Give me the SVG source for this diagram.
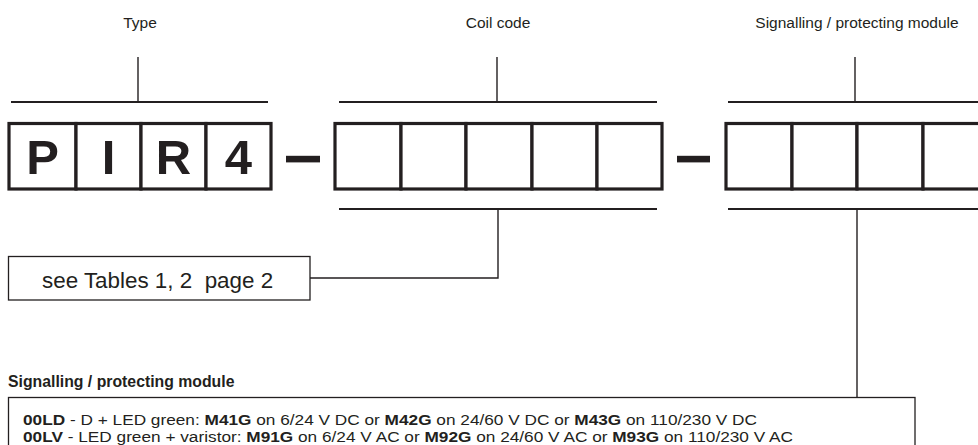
<svg xmlns="http://www.w3.org/2000/svg" width="978" height="445" viewBox="0 0 978 445">
<style>
text{font-family:"Liberation Sans",Arial,sans-serif;fill:#231f20}
.lbl{font-size:15.5px;text-anchor:middle}
.big{font-size:49px;font-weight:bold;text-anchor:middle}
.cell{fill:#fff;stroke:#231f20;stroke-width:3.2}
.br{stroke:#231f20;stroke-width:2;fill:none}
.st{stroke:#231f20;stroke-width:1.4;fill:none}
.dash{fill:#231f20}
.bx{fill:#fff;stroke:#231f20;stroke-width:1.3}
.t{font-size:15.2px}
.b{font-weight:bold}
</style>
<rect width="978" height="445" fill="#fff"/>
<g id="type">
<text class="lbl" x="140" y="28">Type</text>
<line class="st" x1="138" y1="57" x2="138" y2="102"/>
<line class="br" x1="11" y1="102" x2="268" y2="102"/>
<rect class="cell" x="9" y="123.5" width="67" height="65.5"/>
<rect class="cell" x="76" y="123.5" width="65" height="65.5"/>
<rect class="cell" x="141" y="123.5" width="65" height="65.5"/>
<rect class="cell" x="206" y="123.5" width="65" height="65.5"/>
<text class="big" x="42.5" y="173.5">P</text>
<text class="big" x="108.5" y="173.5">I</text>
<text class="big" x="173.5" y="173.5">R</text>
<text class="big" x="238.5" y="173.5">4</text>
</g>
<g id="dash1"><rect class="dash" x="286" y="155.8" width="34" height="6.6"/></g>
<g id="coil">
<text class="lbl" x="498" y="28">Coil code</text>
<line class="st" x1="497" y1="57" x2="497" y2="102"/>
<line class="br" x1="339" y1="102" x2="657" y2="102"/>
<rect class="cell" x="335" y="123.5" width="66" height="65.5"/>
<rect class="cell" x="401" y="123.5" width="65" height="65.5"/>
<rect class="cell" x="466" y="123.5" width="66" height="65.5"/>
<rect class="cell" x="532" y="123.5" width="65" height="65.5"/>
<rect class="cell" x="597" y="123.5" width="65" height="65.5"/>
<line class="br" x1="339" y1="209" x2="657" y2="209"/>
</g>
<g id="dash2"><rect class="dash" x="677" y="155.8" width="33" height="6.6"/></g>
<g id="module">
<text class="lbl" x="857" y="28">Signalling / protecting module</text>
<line class="st" x1="855" y1="57" x2="855" y2="102"/>
<line class="br" x1="728" y1="102" x2="980" y2="102"/>
<rect class="cell" x="726" y="123.5" width="66" height="65.5"/>
<rect class="cell" x="792" y="123.5" width="65" height="65.5"/>
<rect class="cell" x="857" y="123.5" width="66" height="65.5"/>
<rect class="cell" x="923" y="123.5" width="65" height="65.5"/>
<line class="br" x1="728" y1="209" x2="980" y2="209"/>
</g>
<g id="connectors">
<polyline class="st" points="498,209 498,278 310,278"/>
<line class="st" x1="857" y1="209" x2="857" y2="397"/>
</g>
<g id="note">
<rect class="bx" x="8.5" y="256.5" width="301.5" height="43.5"/>
<text x="42" y="287.5" style="font-size:22.4px;white-space:pre" xml:space="preserve">see Tables 1, 2  page 2</text>
</g>
<g id="legend">
<text x="8" y="387" class="b" style="font-size:15.8px">Signalling / protecting module</text>
<rect class="bx" x="8.5" y="397.5" width="906.5" height="60"/>
<text class="t" x="23" y="425" textLength="734" lengthAdjust="spacingAndGlyphs"><tspan class="b">00LD</tspan> - D + LED green: <tspan class="b">M41G</tspan> on 6/24 V DC or <tspan class="b">M42G</tspan> on 24/60 V DC or <tspan class="b">M43G</tspan> on 110/230 V DC</text>
<text class="t" x="23" y="442" textLength="770" lengthAdjust="spacingAndGlyphs"><tspan class="b">00LV</tspan> - LED green + varistor: <tspan class="b">M91G</tspan> on 6/24 V AC or <tspan class="b">M92G</tspan> on 24/60 V AC or <tspan class="b">M93G</tspan> on 110/230 V AC</text>
</g>
</svg>
